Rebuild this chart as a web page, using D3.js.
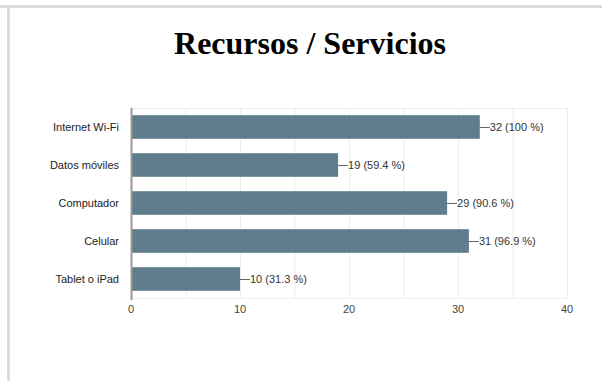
<!DOCTYPE html>
<html lang="es">
<head>
  <meta charset="UTF-8">
  <title>Recursos / Servicios</title>
  <script src="https://d3js.org/d3.v7.min.js"></script>
  <style>
    body { margin: 0; padding: 0; background: #fff; }
    svg { display: block; }
  </style>
</head>
<body>
  <svg id="chart" width="602" height="381"></svg>
  <script>
    const categories = ["Internet Wi-Fi", "Datos móviles", "Computador", "Celular", "Tablet o iPad"];
    const counts = [32, 19, 29, 31, 10];
    const percents = ["100", "59.4", "90.6", "96.9", "31.3"];
    const xTicks = [0, 10, 20, 30, 40];
    const gridTicks = [0, 5, 10, 15, 20, 25, 30, 35, 40];

    const svg = d3.select("#chart");
    const plot = {left: 131, right: 567, top: 108, bottom: 298};

    // card frame
    svg.append("rect").attr("x", 0).attr("y", 5).attr("width", 602).attr("height", 3).attr("fill", "#dcdcdc");
    svg.append("rect").attr("x", 7).attr("y", 5).attr("width", 3).attr("height", 376).attr("fill", "#dcdcdc");

    svg.append("text")
      .attr("x", 310).attr("y", 54)
      .attr("text-anchor", "middle")
      .style("font-family", "'Liberation Serif', 'Times New Roman', serif")
      .style("font-weight", "bold")
      .style("font-size", "32px")
      .attr("fill", "#000")
      .text("Recursos / Servicios");

    const x = d3.scaleLinear().domain([0, 40]).range([plot.left, plot.right]);
    const y = d3.scaleBand().domain(categories).range([plot.top, plot.bottom]).paddingInner(0.38).paddingOuter(0.19);

    const g = svg.append("g").style("font-family", "'Liberation Sans', Arial, sans-serif");

    // grid
    g.append("g").selectAll("line")
      .data(gridTicks)
      .enter().append("line")
      .attr("x1", d => x(d) + 0.5).attr("x2", d => x(d) + 0.5)
      .attr("y1", plot.top).attr("y2", plot.bottom)
      .attr("stroke", "#ececec");
    g.append("line")
      .attr("x1", plot.left).attr("x2", plot.right + 1)
      .attr("y1", plot.top + 0.5).attr("y2", plot.top + 0.5)
      .attr("stroke", "#ececec");
    g.append("line")
      .attr("x1", plot.left).attr("x2", plot.right + 1)
      .attr("y1", plot.bottom + 0.5).attr("y2", plot.bottom + 0.5)
      .attr("stroke", "#ececec");

    // bars
    g.append("g").selectAll("rect")
      .data(categories)
      .enter().append("rect")
      .attr("x", x(0) + 1)
      .attr("y", d => y(d))
      .attr("width", (d, i) => x(counts[i]) - x(0) - 1)
      .attr("height", y.bandwidth())
      .attr("fill", "#607d8b");

    // leader lines and value labels
    categories.forEach((c, i) => {
      const cy = y(c) + y.bandwidth() / 2;
      g.append("line")
        .attr("x1", x(counts[i])).attr("x2", x(counts[i]) + 10)
        .attr("y1", cy + 0.5).attr("y2", cy + 0.5)
        .attr("stroke", "#666");
      g.append("text")
        .attr("x", x(counts[i]) + 10).attr("y", cy + 4)
        .style("font-size", "11px")
        .attr("fill", "#333")
        .text(`${counts[i]} (${percents[i]} %)`);
    });

    // axis line
    g.append("line")
      .attr("x1", plot.left + 0.5).attr("x2", plot.left + 0.5)
      .attr("y1", plot.top).attr("y2", plot.bottom + 2)
      .attr("stroke", "#999").attr("stroke-width", 2);

    // category labels
    g.append("g").selectAll("text")
      .data(categories)
      .enter().append("text")
      .attr("x", 119)
      .attr("y", d => y(d) + y.bandwidth() / 2 + 4)
      .attr("text-anchor", "end")
      .style("font-size", "11px")
      .attr("fill", "#222")
      .text(d => d);

    // x tick labels
    g.append("g").selectAll("text")
      .data(xTicks)
      .enter().append("text")
      .attr("x", d => x(d))
      .attr("y", 313)
      .attr("text-anchor", "middle")
      .style("font-size", "11px")
      .attr("fill", "#444")
      .text(d => d);
  </script>
</body>
</html>
